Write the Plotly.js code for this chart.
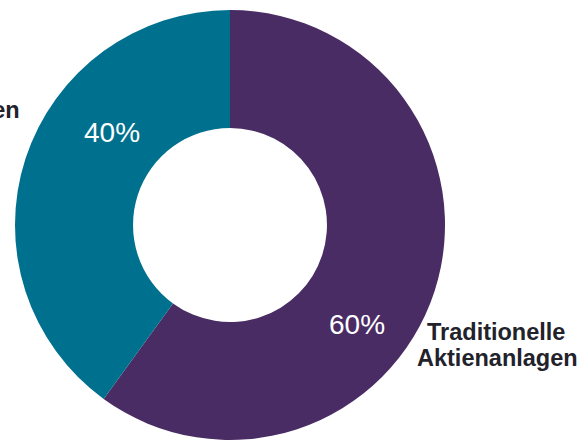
<!DOCTYPE html>
<html>
<head>
<meta charset="utf-8">
<script src="https://cdn.plot.ly/plotly-3.0.1.min.js"></script>
<style>html,body{margin:0;padding:0;background:#fff;}#chart{width:582px;height:441px;}</style>
</head>
<body>
<div id="chart"></div>
<script>
var categories = ["Traditionelle Aktienanlagen", "Nachhaltige Aktienanlagen"];
var labelLines = [["Traditionelle", "Aktienanlagen"], ["Nachhaltige", "Aktienanlagen"]];
var values = [60, 40];
var colors = ["#4A2C64", "#00708F"];

var W = 582, H = 441;
function px(x) { return x / W; }
function py(y) { return 1 - y / H; }

var total = values.reduce(function (a, b) { return a + b; }, 0);
function pct(v) { return Math.round(v / total * 100) + "%"; }

var trace = {
  type: "pie",
  labels: categories,
  values: values,
  hole: 0.451,
  sort: false,
  direction: "clockwise",
  rotation: 0,
  textinfo: "none",
  hoverinfo: "label+percent",
  marker: { colors: colors, line: { color: "#ffffff", width: 0 } },
  domain: { x: [px(15), px(445)], y: [py(440), py(10)] },
  showlegend: false
};

var pctPos = [[356.5, 324], [112, 132]];
var annotations = [];
values.forEach(function (v, i) {
  annotations.push({
    xref: "paper", yref: "paper",
    x: px(pctPos[i][0]), y: py(pctPos[i][1]),
    xanchor: "center", yanchor: "middle",
    text: pct(v), showarrow: false,
    font: { family: "Liberation Sans, Arial, sans-serif", size: 28, color: "#ffffff" }
  });
});

var labelFont = { family: "Liberation Sans, Arial, sans-serif", size: 23.5, color: "#22222b" };
// right label (Traditionelle)
annotations.push({ xref: "paper", yref: "paper", x: px(496), y: py(332), xanchor: "center", yanchor: "middle",
  text: "<b>" + labelLines[0][0] + "</b>", showarrow: false, font: labelFont });
annotations.push({ xref: "paper", yref: "paper", x: px(497.5), y: py(358), xanchor: "center", yanchor: "middle",
  text: "<b>" + labelLines[0][1] + "</b>", showarrow: false, font: labelFont });
// left label (Nachhaltige), mostly outside the canvas as in the reference
annotations.push({ xref: "paper", yref: "paper", x: px(-22), y: py(84), xanchor: "right", yanchor: "middle",
  text: "<b>" + labelLines[1][0] + "</b>", showarrow: false, font: labelFont });
annotations.push({ xref: "paper", yref: "paper", x: px(22), y: py(110), xanchor: "right", yanchor: "middle",
  text: "<b>" + labelLines[1][1] + "</b>", showarrow: false, font: labelFont });

var layout = {
  width: W, height: H,
  margin: { l: 0, r: 0, t: 0, b: 0 },
  paper_bgcolor: "#ffffff",
  plot_bgcolor: "#ffffff",
  annotations: annotations
};

Plotly.newPlot("chart", [trace], layout, { displayModeBar: false, staticPlot: true });
</script>
</body>
</html>
